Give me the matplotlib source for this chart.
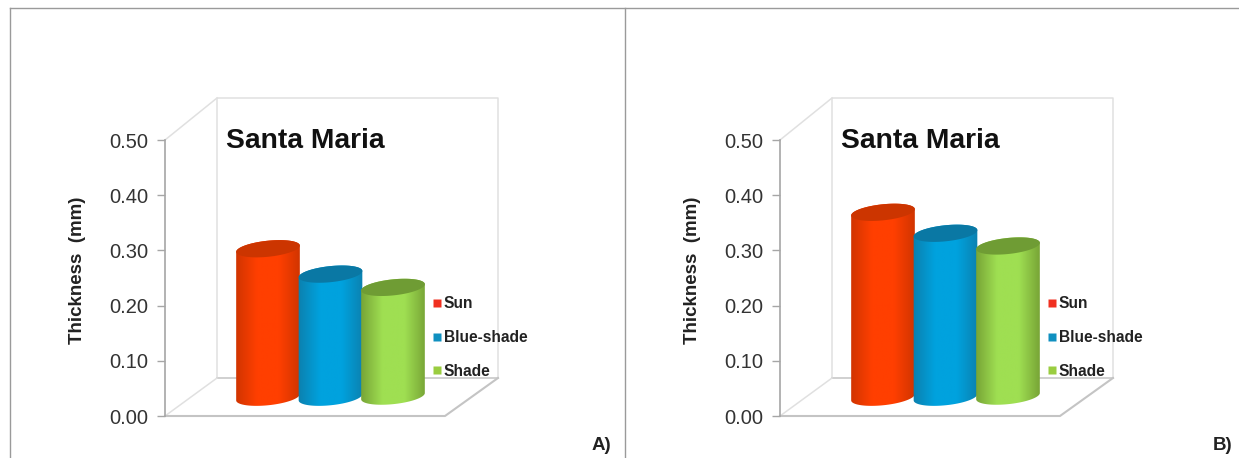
import numpy as np
import matplotlib
matplotlib.use('Agg')
import matplotlib.pyplot as plt
from matplotlib.lines import Line2D
from matplotlib.patches import Polygon
from matplotlib.colors import LinearSegmentedColormap

plt.rcParams['font.family'] = ['Liberation Sans', 'DejaVu Sans']

# values
series = ['Sun', 'Blue-shade', 'Shade']
thickness_a = [0.269, 0.223, 0.197]
thickness_b = [0.335, 0.297, 0.272]
y_ticks = [0.0, 0.1, 0.2, 0.3, 0.4, 0.5]
edge_colors = ['#cf3400', '#0c80ae', '#76a235']
mid_colors = ['#ff3f00', '#00a2de', '#9fdf52']
cap_colors = ['#cc3500', '#0a78a4', '#6f9c34']
key_colors = ['#f03020', '#1090c0', '#9acd40']

W, H = 1239, 458
PX = 552.0            # pixels per mm on the y axis
Y0 = 416              # pixel row of 0.00


def ellipse(cx, cy, a=32, b=8, tilt=np.radians(6), t=None):
    # tilted ellipse, x in pixels and y in mm
    if t is None:
        t = np.linspace(0, 2 * np.pi, 90)
    x = cx + a * np.cos(t) * np.cos(tilt) - b * np.sin(t) * np.sin(tilt)
    y = cy + (a * np.cos(t) * np.sin(tilt) + b * np.sin(t) * np.cos(tilt)) / PX
    return np.column_stack([x, y])


def cylinder(ax, cx, base, value, edge, mid, cap, z):
    top = base + value
    upper = ellipse(cx, top, t=np.linspace(0, np.pi, 45))
    lower = ellipse(cx, base, t=np.linspace(np.pi, 2 * np.pi, 45))
    body = Polygon(np.vstack([upper, lower]), closed=True, fc='none', ec='none',
                   transform=ax.transData)
    ax.add_patch(body)
    cmap = LinearSegmentedColormap.from_list('c', [edge, mid, mid, edge])
    grad = np.linspace(0, 1, 128).reshape(1, -1)
    img = ax.imshow(grad, cmap=cmap, aspect='auto', zorder=z,
                    extent=[cx - 33, cx + 33, base - 0.03, top + 0.03])
    img.set_clip_path(body)
    ax.add_patch(Polygon(ellipse(cx, top), closed=True, fc=cap, ec='none', zorder=z + 0.1))


def panel(left, width, values, letter):
    ax = fig.add_axes([left / W, 0, width / W, 1])
    ax.patch.set_visible(False)

    wall = '#e0e0e0'
    floor = '#c4c4c4'
    dz = 38 / PX
    # back walls and floor
    ax.plot([217, 217, 498, 498], [dz, 318 / PX, 318 / PX, dz], color=wall, lw=1.1, zorder=1)
    ax.plot([165, 217], [0.5, 318 / PX], color=wall, lw=1.1, zorder=1)
    ax.plot([217, 498], [dz, dz], color=floor, lw=1.1, zorder=1)
    ax.plot([165, 217], [0, dz], color=wall, lw=1.1, zorder=1)
    ax.plot([165, 445, 498], [0, 0, dz], color=floor, lw=1.5, zorder=1)

    for i in range(3):
        cylinder(ax, 268 + 62.5 * i, 0.034 + 0.002 * (i == 2), values[i],
                 edge_colors[i], mid_colors[i], cap_colors[i], 3 + i)

    ax.set_xlim(0, width)
    ax.set_ylim(-(H - Y0) / PX, Y0 / PX)

    for s in ['top', 'right', 'bottom']:
        ax.spines[s].set_visible(False)
    ax.spines['left'].set_position(('data', 165))
    ax.spines['left'].set_bounds(0, 0.5)
    ax.spines['left'].set_color('#a6a6a6')
    ax.spines['left'].set_linewidth(1.2)
    ax.set_xticks([])
    ax.set_yticks(y_ticks)
    ax.set_yticklabels(['%.2f' % v for v in y_ticks], fontsize=14.5, color='#333333')
    ax.tick_params(axis='y', length=6, width=1, color='#a6a6a6', pad=6)
    ax.set_ylabel('Thickness  (mm)', fontsize=13.5, fontweight='bold', color='#222222')
    ax.yaxis.set_label_coords(86, 0.264, transform=ax.transData)

    ax.text(226, (Y0 - 141) / PX, 'Santa Maria', fontsize=20.3, fontweight='bold',
            color='#111111', va='center', ha='left')

    for i, name in enumerate(series):
        y = (Y0 - (303 + 33.5 * i)) / PX
        ax.plot([436.5], [y], 's', ms=5.5, color=key_colors[i], mec='none', zorder=8)
        ax.text(443.5, y - 1 / PX, name, fontsize=11.2, fontweight='bold', color='#222222',
                va='center', ha='left', zorder=8)

    ax.text(letter[1], (Y0 - 446) / PX, letter[0], fontsize=13.5, fontweight='bold',
            color='#222222', va='center', ha='left')
    return ax


fig = plt.figure(figsize=(W / 100, H / 100), dpi=100)
fig.patch.set_facecolor('white')

panel(0, 625, thickness_a, ('A)', 592))
panel(615, 624, thickness_b, ('B)', 598))

# outer frame of the two panels
frame = '#9a9a9a'
for xs, ys in [([10, 1239], [450, 450]), ([10, 10], [0, 450]), ([625, 625], [0, 450])]:
    fig.add_artist(Line2D([x / W for x in xs], [y / H for y in ys], color=frame, lw=1.0))

plt.savefig('out.png', dpi=100)
